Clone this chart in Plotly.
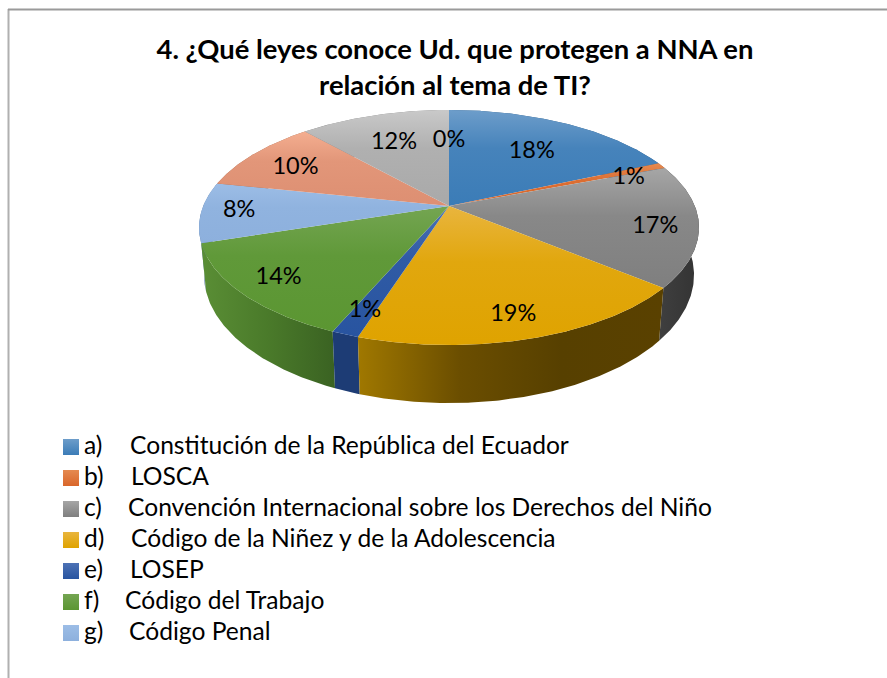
import math
import plotly.graph_objects as go

TITLE = "4. ¿Qué leyes conoce Ud. que protegen a NNA en<br>relación al tema de TI?"
values = [18.4, 0.8, 16.8, 18.95, 1.49, 13.56, 8.3, 10.1, 11.6, 0.0]
percent_labels = ["18%", "1%", "17%", "19%", "1%", "14%", "8%", "10%", "12%", "0%"]
legend_prefixes = ["a)", "b)", "c)", "d)", "e)", "f)", "g)"]
legend_names = [
    "Constitución de la República del Ecuador",
    "LOSCA",
    "Convención Internacional sobre los Derechos del Niño",
    "Código de la Niñez y de la Adolescencia",
    "LOSEP",
    "Código del Trabajo",
    "Código Penal",
]

# Styling
top_colors = [
    ("#6d9dca", "#3b7cb7"), ("#e58a50", "#d9662a"), ("#a6a6a6", "#7f7f7f"),
    ("#e9b53e", "#dfa300"), ("#4d72b5", "#2854a0"), ("#74a552", "#5b9632"),
    ("#9cbde6", "#8db0dd"), ("#f4ae90", "#dd8f72"), ("#c9c9c9", "#a9a9a9"),
    ("#c9c9c9", "#a9a9a9"),
]
side_colors = [
    ["#2a5a85", "#2a5a85"], ["#a04a1c", "#a04a1c"], ["#3f3f3f", "#333333"],
    ["#a07800", "#6b4e00", "#574000", "#5a4100"], ["#1d3c75", "#1d3c75"],
    ["#5a8e35", "#4a7a2a", "#3a6222"], ["#5f7fa8", "#5f7fa8"],
    ["#a06a50", "#a06a50"], ["#808080", "#808080"], ["#808080", "#808080"],
]
FONT = "Lato"
LABEL_SIZE = 23.5
LEGEND_SIZE = 24.6
label_radius = [.66, .82, .83, .83, .83, .83, .85, .77, .69, .67]
label_nudge = [1, 2, 1.7, .7, .2, 1.1, 1.3, -.3, -.4, 0]
LABEL_DY = 2.5
legend_name_x = [130, 131, 128, 131, 130, 125, 129]

# Projection of the tilted disc
CX, CY, A, B, K = 449, 206, 245.8, 113.6, -0.183
S, SY, DROP = 0.98, 1.09, 45.5


def top_pt(phi_deg, r=1.0):
    u = r * math.sin(math.radians(phi_deg))
    v = -r * math.cos(math.radians(phi_deg))
    d = 1 + K * v
    return CX + A * u / d, CY + B * v / d


def bot_pt(phi_deg):
    x, y = top_pt(phi_deg)
    return CX + S * (x - CX), CY + DROP + SY * (y - CY)


def mix(c_a, c_b, w):
    pa = [int(c_a[j:j + 2], 16) for j in (1, 3, 5)]
    pb = [int(c_b[j:j + 2], 16) for j in (1, 3, 5)]
    return "#%02x%02x%02x" % tuple(round(p + (q - p) * w) for p, q in zip(pa, pb))


total = sum(values)
edges = [0]
for val in values:
    edges.append(edges[-1] + val * 360 / total)

fig = go.Figure()


def arc(a0, a1):
    n = max(2, int(abs(a1 - a0) * 2))
    return [a0 + (a1 - a0) * i / n for i in range(n + 1)]


def add_poly(xs, ys, grad):
    fig.add_trace(go.Scatter(x=xs, y=ys, mode="lines", fill="toself",
                             line=dict(width=0), fillgradient=grad,
                             hoverinfo="skip", showlegend=False))


# side walls, back to front
order = sorted(range(len(values)), key=lambda i: -abs(((edges[i] + edges[i + 1]) / 2) - 180))
for i in order:
    if values[i] == 0:
        continue
    phis = arc(edges[i], edges[i + 1])
    t = [top_pt(p) for p in phis]
    b = [bot_pt(p) for p in reversed(phis)]
    pts = t + b + [t[0]]
    cols = side_colors[i]
    scale = [[j / (len(cols) - 1), c] for j, c in enumerate(cols)]
    add_poly([p[0] for p in pts], [p[1] for p in pts],
             dict(type="horizontal", colorscale=scale))

# top faces (y axis runs downward, so the gradient runs bottom colour first)
for i in range(len(values)):
    if values[i] == 0:
        continue
    phis = arc(edges[i], edges[i + 1])
    pts = [(CX, CY)] + [top_pt(p) for p in phis] + [(CX, CY)]
    c0, c1 = top_colors[i]
    add_poly([p[0] for p in pts], [p[1] for p in pts],
             dict(type="vertical",
                  colorscale=[[0, c1], [0.6, mix(c1, c0, 0.22)], [1, c0]]))

# data labels
lab = [top_pt((edges[i] + edges[i + 1]) / 2 + label_nudge[i], label_radius[i])
       for i in range(len(values))]
fig.add_trace(go.Scatter(x=[p[0] for p in lab], y=[p[1] + LABEL_DY for p in lab], mode="text",
                         text=percent_labels, textposition="middle center",
                         textfont=dict(family=FONT, size=LABEL_SIZE, color="#000000"),
                         hoverinfo="skip", showlegend=False))

# legend column
LY0, LDY = 447, 31
rows = [LY0 + LDY * i for i in range(len(legend_names))]
text_rows = [r + 1 for r in rows]
for i, yy in enumerate(rows):
    fig.add_trace(go.Scatter(x=[71], y=[yy], mode="markers", hoverinfo="skip", showlegend=False,
                             marker=dict(symbol="square", size=16, color=top_colors[i][0],
                                         line=dict(width=0),
                                         gradient=dict(type="vertical", color=top_colors[i][1]))))
fig.add_trace(go.Scatter(x=[84] * len(rows), y=text_rows, mode="text", text=legend_prefixes,
                         textposition="middle right", hoverinfo="skip", showlegend=False,
                         textfont=dict(family=FONT, size=LEGEND_SIZE, color="#000000")))
fig.add_trace(go.Scatter(x=legend_name_x, y=text_rows, mode="text", text=legend_names,
                         textposition="middle right", hoverinfo="skip", showlegend=False,
                         textfont=dict(family=FONT, size=LEGEND_SIZE, color="#000000")))

fig.update_layout(
    width=887, height=678, margin=dict(l=0, r=0, t=0, b=0),
    paper_bgcolor="#ffffff", plot_bgcolor="#ffffff", showlegend=False,
    title=dict(text="<b>" + TITLE + "</b>", x=455 / 887, xanchor="center", y=1 - 59 / 678,
               yanchor="top", font=dict(family=FONT, size=27.4, color="#000000")),
    xaxis=dict(range=[0, 887], visible=False, fixedrange=True),
    yaxis=dict(range=[678, 0], visible=False, fixedrange=True),
    shapes=[
        dict(type="line", xref="x", yref="y", x0=8.5, x1=8.5, y0=9, y1=678,
             line=dict(color="#b0b0b0", width=2)),
        dict(type="line", xref="x", yref="y", x0=8, x1=887, y0=9.5, y1=9.5,
             line=dict(color="#9a9a9a", width=2)),
    ],
)
fig.write_html("out.html", config=dict(displayModeBar=False),
               post_script="document.body.style.margin='0';document.body.style.overflow='hidden';")
